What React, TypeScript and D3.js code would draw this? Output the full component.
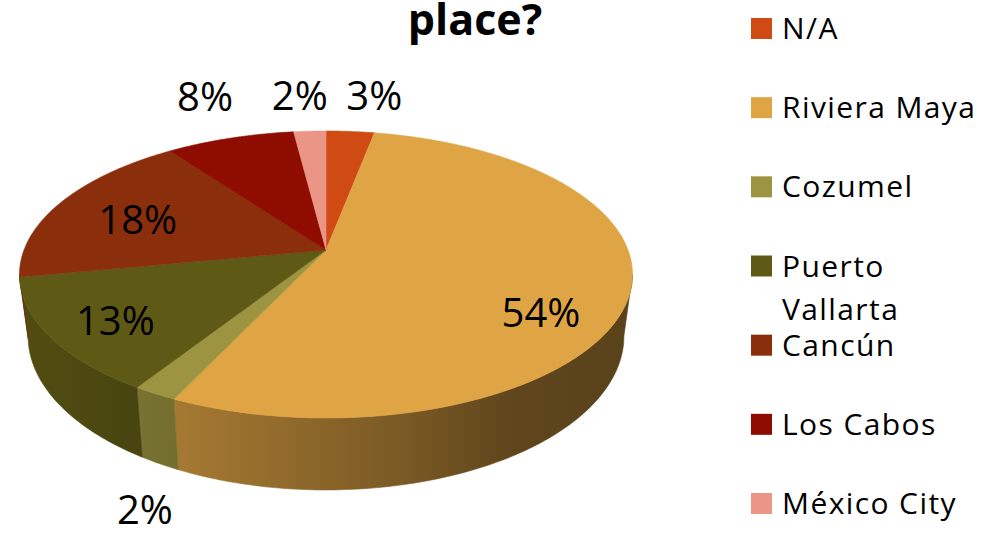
import React from "react";
import * as d3 from "d3";

// ---- data ----
const categories = ["N/A", "Riviera Maya", "Cozumel", "Puerto Vallarta", "Cancún", "Los Cabos", "México City"];
const values = [3, 54, 2, 13, 18, 8, 2];
const colors = ["#D04A14", "#DFA443", "#9C9440", "#5E5914", "#8B2E0B", "#8E0C00", "#EA9585"];
const legendLines = [["N/A"], ["Riviera Maya"], ["Cozumel"], ["Puerto", "Vallarta"], ["Cancún"], ["Los Cabos"], ["México City"]];
const titleText = "place?";

// label layout (radial factor along slice middle, plus nudge)
const labelR = [1, 0.72, 1, 0.78, 0.7, 1, 1];
const labelNudge: [number, number][] = [[24, -36], [0, 31], [-10, 116], [0, 5], [0, 4], [-25, -42], [-10, -35]];

const W = 987, H = 537;
const CX = 326, CY = 250;
const RX = 302, RY = 139.3, K = 0.1707;
const DEPTH = 59.7;
const SHRINK = 0.972;

function proj(theta: number, f = 1): [number, number, number] {
  const u = f * Math.sin(theta);
  const v = -f * Math.cos(theta);
  const s = 1 / (1 - K * v);
  return [CX + RX * u * s, CY + RY * v * s, s];
}
function projBottom(theta: number): [number, number] {
  const [x, y, s] = proj(theta, 1);
  return [CX + (x - CX) * SHRINK, y + DEPTH * s];
}

function arcPts(a0: number, a1: number, fn: (t: number) => [number, number]) {
  const n = Math.max(2, Math.ceil(Math.abs(a1 - a0) * 60));
  const pts: [number, number][] = [];
  for (let i = 0; i <= n; i++) pts.push(fn(a0 + ((a1 - a0) * i) / n));
  return pts;
}

function shade(c: string, f: number) {
  const r = d3.rgb(c);
  return d3.rgb(r.r * f, r.g * f, r.b * f).formatHex();
}
const shadeStops: [number, number][] = [[0, 0.86], [0.18, 0.78], [0.26, 0.74], [0.62, 0.55], [0.81, 0.42], [1, 0.4]];

export default function App() {
  const pie = d3.pie<number>().sort(null).startAngle(0).endAngle(2 * Math.PI)(values);
  const thR = Math.acos(-K);
  const thL = 2 * Math.PI - thR;
  const leftX = CX - RX / Math.sqrt(1 - K * K);
  const rightX = CX + RX / Math.sqrt(1 - K * K);
  const line = d3.line();

  const walls = pie.map((p, i) => {
    const a0 = Math.max(p.startAngle, thR);
    const a1 = Math.min(p.endAngle, thL);
    if (a1 <= a0) return null;
    const top = arcPts(a0, a1, (t) => { const q = proj(t); return [q[0], q[1]]; });
    const bot = arcPts(a1, a0, projBottom);
    return <path key={"w" + i} d={line([...top, ...bot])! + "Z"} fill={`url(#wg${i})`} stroke={`url(#wg${i})`} strokeWidth={0.6} />;
  });

  const tops = pie.map((p, i) => {
    const pts = arcPts(p.startAngle, p.endAngle, (t) => { const q = proj(t); return [q[0], q[1]]; });
    return <path key={"t" + i} d={line([[CX, CY], ...pts])! + "Z"} fill={colors[i]} stroke={colors[i]} strokeWidth={0.6} strokeLinejoin="round" />;
  });

  const labels = pie.map((p, i) => {
    const mid = (p.startAngle + p.endAngle) / 2;
    const [x, y] = proj(mid, labelR[i]);
    const fs = 40;
    return (
      <text key={"l" + i} x={x + labelNudge[i][0]} y={y + labelNudge[i][1] + fs * 0.357} textAnchor="middle"
        fontFamily="'Open Sans', sans-serif" fontSize={fs} fill="#000">{values[i]}%</text>
    );
  });

  const rowY = d3.scaleLinear().domain([0, categories.length - 1]).range([39, 514]);

  return (
    <svg width={W} height={H} style={{ position: "absolute", left: 0, top: 0, background: "#fff" }}>
      <defs>
        {colors.map((c, i) => (
          <linearGradient key={i} id={`wg${i}`} gradientUnits="userSpaceOnUse" x1={leftX} x2={rightX} y1={0} y2={0}>
            {shadeStops.map(([o, f], j) => <stop key={j} offset={o} stopColor={shade(c, f)} />)}
          </linearGradient>
        ))}
      </defs>
      <rect width={W} height={H} fill="#fff" />
      <text x={475} y={35} textAnchor="middle" fontFamily="'Open Sans', sans-serif" fontWeight="bold" fontSize={43} fill="#000">{titleText}</text>
      {walls}
      {tops}
      {labels}
      <g fontFamily="'Open Sans', sans-serif" fontSize={30} letterSpacing={1.4} fill="#000">
        {categories.map((c, i) => {
          const by = rowY(i);
          return (
            <g key={c}>
              <rect x={751} y={by - 21} width={21} height={21} fill={colors[i]} />
              {legendLines[i].map((t, j) => (
                <text key={j} x={782} y={by + j * 43}>{t}</text>
              ))}
            </g>
          );
        })}
      </g>
    </svg>
  );
}
